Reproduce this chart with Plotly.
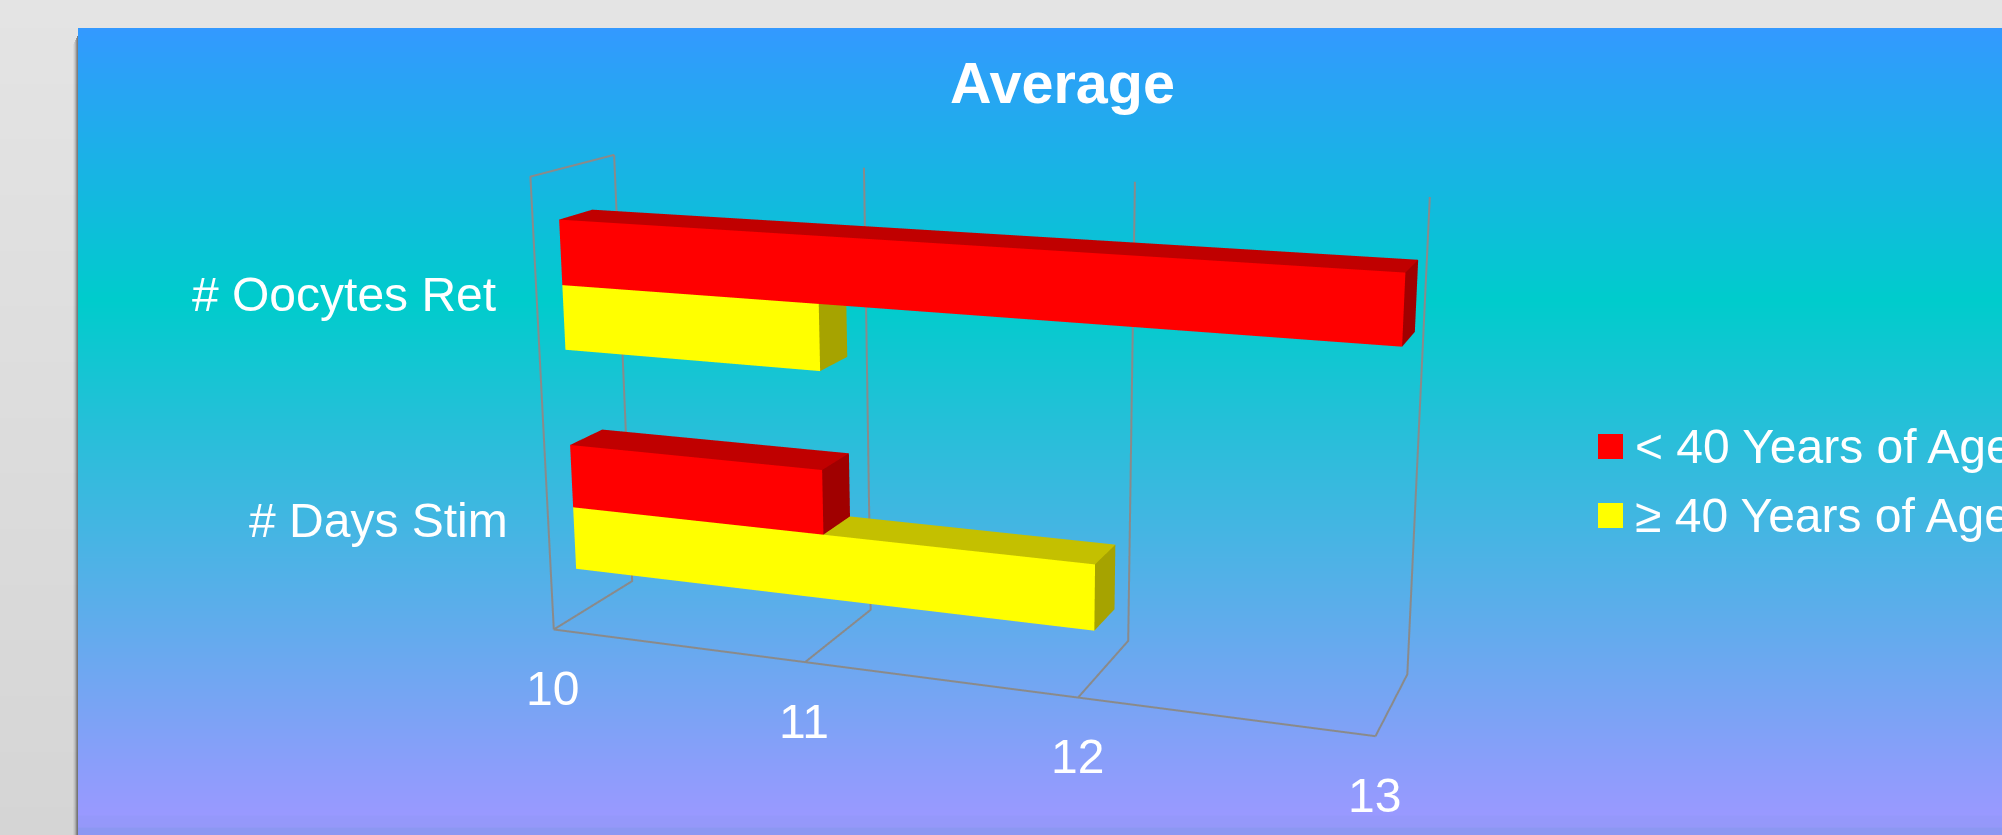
import numpy as np
import plotly.graph_objects as go

# ---- data ----
categories = ["# Days Stim", "# Oocytes Ret"]      # bottom to top
series_names = ["< 40 Years of Age", "\u2265 40 Years of Age"]
under_40 = [11, 13]
over_40 = [12, 11]
x_ticks = [10, 11, 12, 13]
title_text = "Average"

# ---- style ----
FONT = "Liberation Sans, Arial, sans-serif"
FRONT = ["#FF0000", "#FFFF00"]
TOP = ["#C00000", "#C4C000"]
SIDE = ["#A00000", "#A6A300"]
GRID = "#8A8A8A"
W, H, TOP_OFFSET, VISIBLE = 2002, 1881, 523, 835
BAR_H = 1 / 3.5
Y0, Y1 = 0.3, 0.7


def bar_mesh(values, above, idx):
    xs, ys, zs, ii, jj, kk, fc = [], [], [], [], [], [], []

    def quad(pts, col):
        n = len(xs)
        for p in pts:
            xs.append(p[0]); ys.append(p[1]); zs.append(p[2])
        ii.extend([n, n]); jj.extend([n + 1, n + 2]); kk.extend([n + 2, n + 3])
        fc.extend([col, col])

    for c, v in enumerate(values):
        zb = c if above else c - BAR_H
        zt = zb + BAR_H
        quad([(10, Y0, zb), (v, Y0, zb), (v, Y0, zt), (10, Y0, zt)], FRONT[idx])
        quad([(10, Y0, zt), (v, Y0, zt), (v, Y1, zt), (10, Y1, zt)], TOP[idx])
        quad([(v, Y0, zb), (v, Y1, zb), (v, Y1, zt), (v, Y0, zt)], SIDE[idx])
    return go.Mesh3d(x=xs, y=ys, z=zs, i=ii, j=jj, k=kk, facecolor=fc, flatshading=True,
                     name=series_names[idx], hoverinfo="skip", showscale=False,
                     lighting=dict(ambient=1, diffuse=0, specular=0, fresnel=0, roughness=1),
                     scene="scene")


def vstrip(x0, x1, y0, y1, stops):
    ys = np.arange(y0, y1) + 0.5
    zmin, zmax = y0, y1
    cs = [[(s - zmin) / (zmax - zmin), c] for s, c in stops]
    z = np.c_[ys, ys]
    return go.Heatmap(z=z, x0=x0 + (x1 - x0) / 4, dx=(x1 - x0) / 2, y0=ys[0], dy=1,
                      zmin=zmin, zmax=zmax, colorscale=cs, showscale=False,
                      hoverinfo="skip", xaxis="x", yaxis="y")


fig = go.Figure()
fig.add_trace(vstrip(0, 78, 0, 835, [(0, "#E4E4E4"), (835, "#D5D5D5")]))
fig.add_trace(vstrip(78, 2002, 28, 835, [(28, "#3399FF"), (300, "#00CCCC"), (815, "#9999FF"),
                                         (816, "#9598FB"), (827, "#9598F9"),
                                         (828, "#8C97F2"), (835, "#8C97F2")]))

# grid lines of the floor, back wall and left wall
zlo, zhi = -0.5, 1.5
gx, gy, gz = [], [], []
for t in x_ticks:
    gx += [t, t, t, None]; gy += [0, 1, 1, None]; gz += [zlo, zlo, zhi, None]
gx += [x_ticks[0], x_ticks[-1], None]; gy += [0, 0, None]; gz += [zlo, zlo, None]
gx += [x_ticks[0], x_ticks[0], x_ticks[0]]; gy += [0, 0, 1]; gz += [zlo, zhi, zhi]
fig.add_trace(go.Scatter3d(x=gx, y=gy, z=gz, mode="lines", line=dict(color=GRID, width=4),
                           hoverinfo="skip", showlegend=False, connectgaps=False))
fig.add_trace(bar_mesh(under_40, True, 0))
fig.add_trace(bar_mesh(over_40, False, 1))

# legend swatches
for name, col, yp in zip(series_names, FRONT, [446.5, 515.5]):
    fig.add_trace(go.Scatter(x=[1610.5], y=[yp], mode="markers", name=name, hoverinfo="skip",
                             marker=dict(symbol="square", size=25, color=col, line=dict(width=0)),
                             cliponaxis=False, xaxis="x", yaxis="y"))

txt = dict(family=FONT, size=48, color="white")
ann_2d = [dict(x=1632.5, y=yp, xref="x", yref="y", text=name, showarrow=False, xanchor="left",
               yanchor="middle", font=txt)
          for name, yp in zip(series_names, [446, 515])]

ann_3d = [dict(x=t, y=0, z=zlo, text=str(t), showarrow=False, xanchor="center", yanchor="middle",
               xshift=-1, yshift=-59, font=txt) for t in x_ticks]
ann_3d += [dict(x=10, y=0, z=c, text=n, showarrow=False, xanchor="right", yanchor="middle",
                xshift=-38, yshift=0, font=txt) for c, n in enumerate(categories)]

# axis ranges reach past the box so nothing sits on the clipping planes;
# the aspect ratio is scaled by the same factors, which leaves the box size unchanged
fig.update_layout(
    width=W, height=H, margin=dict(l=0, r=0, t=0, b=0), showlegend=False,
    paper_bgcolor="#E4E4E4", plot_bgcolor="rgba(0,0,0,0)",
    title=dict(text="<b>%s</b>" % title_text, x=1062.5 / W, xref="paper", xanchor="center",
               y=1 - (TOP_OFFSET + 83) / H, yref="container", yanchor="middle",
               font=dict(family=FONT, size=57.5, color="white"), pad=dict(t=0, b=0, l=0, r=0)),
    xaxis=dict(range=[0, W], visible=False, domain=[0, 1], fixedrange=True),
    yaxis=dict(range=[VISIBLE, 0], visible=False, fixedrange=True,
               domain=[1 - (TOP_OFFSET + VISIBLE) / H, 1 - TOP_OFFSET / H]),
    annotations=ann_2d,
    shapes=[dict(type="rect", xref="x", yref="y", x0=x, x1=x + 1, y0=y0, y1=835,
                 fillcolor="rgba(0,0,0,%g)" % a, line=dict(width=0), layer="above")
            for x, a, y0 in zip([73, 74, 75, 76, 77], [0.04, 0.1, 0.2, 0.35, 0.45],
                                [44, 42, 40, 38, 36])],
    scene=dict(
        domain=dict(x=[0, 1], y=[0, 1]),
        bgcolor="rgba(0,0,0,0)",
        xaxis=dict(range=[9.5, 13.5], visible=False),
        yaxis=dict(range=[-0.5, 1.5], visible=False),
        zaxis=dict(range=[-1, 2], visible=False),
        aspectmode="manual",
        aspectratio=dict(x=4 / 3, y=0.1958 * 2, z=0.5513 * 1.5),
        camera=dict(eye=dict(x=0.8861, y=-2.3646, z=0.6547),
                    center=dict(x=0.0263, y=0.0393, z=0.0017),
                    up=dict(x=-0.0005, y=-0.001, z=1),
                    projection=dict(type="perspective")),
        annotations=ann_3d,
    ),
)

post = """
var gd=document.getElementById('{plot_id}');
document.documentElement.style.overflow='hidden';
document.body.style.overflow='hidden';
document.body.style.margin='0';
gd.style.position='absolute';gd.style.left='0';gd.style.top='-%dpx';
""" % TOP_OFFSET
fig.write_html("out.html", post_script=post, config=dict(displayModeBar=False))
